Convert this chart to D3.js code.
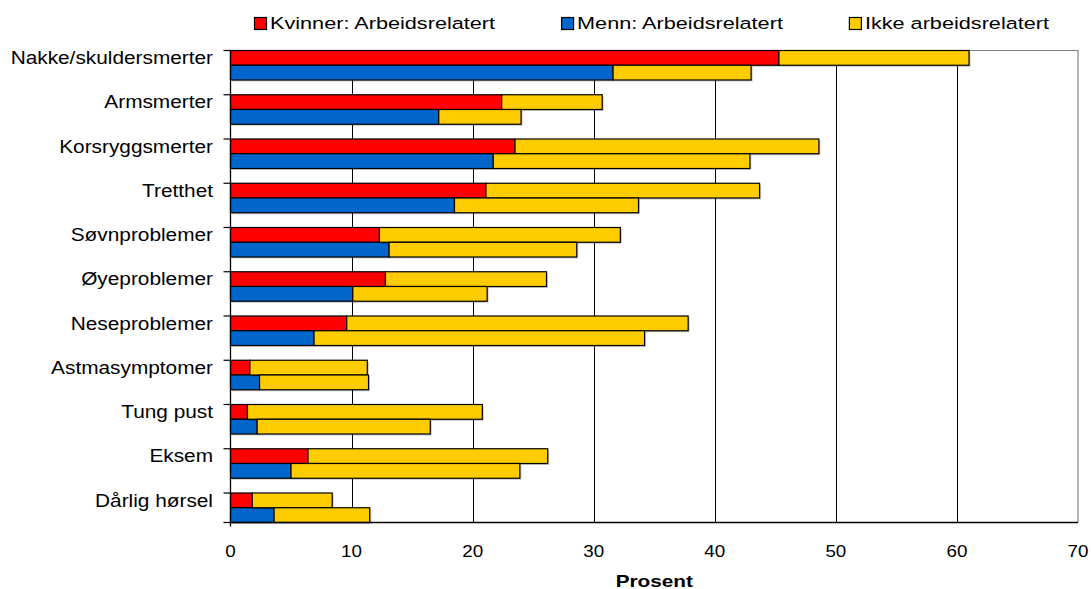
<!DOCTYPE html>
<html>
<head>
<meta charset="utf-8">
<script src="https://cdn.jsdelivr.net/npm/d3@7"></script>
<style>
  html, body { margin: 0; padding: 0; background: #fff; }
  svg { display: block; font-family: "Liberation Sans", Arial, sans-serif; }
</style>
</head>
<body>
<svg id="chart" width="1091" height="589"></svg>
<script>
// Symptomer, andel (prosent) – arbeidsrelatert vs. ikke arbeidsrelatert
const categories = [
  "Nakke/skuldersmerter", "Armsmerter", "Korsryggsmerter", "Tretthet",
  "Søvnproblemer", "Øyeproblemer", "Neseproblemer", "Astmasymptomer",
  "Tung pust", "Eksem", "Dårlig hørsel"
];
const kvinnerArb  = [45.3, 22.4, 23.5, 21.1, 12.3, 12.8,  9.6, 1.6,  1.4,  6.4, 1.8];
const kvinnerIkke = [15.7,  8.3, 25.1, 22.6, 19.9, 13.3, 28.2, 9.7, 19.4, 19.8, 6.6];
const mennArb     = [31.6, 17.2, 21.7, 18.5, 13.1, 10.1,  6.9, 2.4,  2.2,  5.0, 3.6];
const mennIkke    = [11.4,  6.8, 21.2, 15.2, 15.5, 11.1, 27.3, 9.0, 14.3, 18.9, 7.9];
const xTicks = [0, 10, 20, 30, 40, 50, 60, 70];
const legendLabels = ["Kvinner: Arbeidsrelatert", "Menn: Arbeidsrelatert", "Ikke arbeidsrelatert"];
const xTitle = "Prosent";

const colors = { kvinner: "#FF0000", menn: "#0066CC", ikke: "#FFCC00" };

const svg = d3.select("#chart");
const plotLeft = 230.5, plotRight = 1078, plotTop = 50.5, plotBottom = 522.5;

const x = d3.scaleLinear().domain([0, 70]).range([plotLeft, plotRight]);
const y = d3.scaleBand().domain(categories).range([plotTop, plotBottom])
  .paddingInner(1 / 3).paddingOuter(0).align(0);
const half = y.bandwidth() / 2;

// rows: one per category and gender, stacked work-related + other
const rows = [];
categories.forEach((c, i) => {
  rows.push({ cat: c, row: 0, arb: kvinnerArb[i], ikke: kvinnerIkke[i], color: colors.kvinner });
  rows.push({ cat: c, row: 1, arb: mennArb[i], ikke: mennIkke[i], color: colors.menn });
});
const stacked = d3.stack().keys(["arb", "ikke"])(rows);

// vertical gridlines
svg.append("g").selectAll("line")
  .data(xTicks.filter(t => t > 0 && t < 70))
  .join("line")
  .attr("x1", d => Math.round(x(d)) + 0.5).attr("x2", d => Math.round(x(d)) + 0.5)
  .attr("y1", plotTop).attr("y2", plotBottom)
  .attr("stroke", "#000").attr("stroke-width", 1);

// plot frame (top and right)
svg.append("path")
  .attr("d", `M${plotLeft},${plotTop}H${plotRight}V${plotBottom}`)
  .attr("fill", "none").attr("stroke", "#808080").attr("stroke-width", 1.2);

// bars
const barY = d => y(d.data.cat) + d.data.row * half;
stacked.forEach((layer, k) => {
  const g = svg.append("g");
  g.selectAll("rect.shadow")
    .data(layer).join("rect").attr("class", "shadow")
    .attr("x", d => x(d[0]) + 1.5).attr("y", d => barY(d) + 1.5)
    .attr("width", d => x(d[1]) - x(d[0])).attr("height", half)
    .attr("fill", "#000").attr("opacity", 0.22);
  g.selectAll("rect.bar")
    .data(layer).join("rect").attr("class", "bar")
    .attr("x", d => x(d[0])).attr("y", d => barY(d))
    .attr("width", d => x(d[1]) - x(d[0])).attr("height", half)
    .attr("fill", d => k === 0 ? d.data.color : colors.ikke)
    .attr("stroke", "#000").attr("stroke-width", 1.2);
});

// axes
svg.append("line").attr("x1", plotLeft).attr("x2", plotLeft).attr("y1", plotTop).attr("y2", plotBottom + 4)
  .attr("stroke", "#000").attr("stroke-width", 1.3);
svg.append("line").attr("x1", plotLeft).attr("x2", plotRight).attr("y1", plotBottom).attr("y2", plotBottom)
  .attr("stroke", "#000").attr("stroke-width", 1.3);
const catTicks = categories.map(c => y(c)).concat([plotBottom]);
svg.append("g").selectAll("line").data(catTicks).join("line")
  .attr("x1", plotLeft - 7).attr("x2", plotLeft).attr("y1", d => d).attr("y2", d => d)
  .attr("stroke", "#000").attr("stroke-width", 1.2);

// stretched text helper
function label(g, txt, px, py, size, sx, anchor, weight) {
  return g.append("text")
    .attr("transform", `translate(${px},${py}) scale(${sx},1)`)
    .attr("text-anchor", anchor || "start")
    .attr("font-size", size)
    .attr("font-weight", weight || "normal")
    .attr("fill", "#000")
    .text(txt);
}

// category labels
const catG = svg.append("g");
categories.forEach(c => label(catG, c, 213, y(c) + 13.5, 17.5, 1.19, "end"));

// x tick labels
const tickG = svg.append("g");
xTicks.forEach(t => label(tickG, t, x(t), 556.5, 16.5, 1.14, "middle"));

// x title
label(svg.append("g"), xTitle, (plotLeft + plotRight) / 2, 586.5, 17.3, 1.2, "middle", "bold");

// legend
const legG = svg.append("g");
const legColors = [colors.kvinner, colors.menn, colors.ikke];
let lx = 254.5;
legendLabels.forEach((t, i) => {
  legG.append("rect").attr("x", lx).attr("y", 17.5).attr("width", 12).attr("height", 12)
    .attr("fill", legColors[i]).attr("stroke", "#000").attr("stroke-width", 1.2);
  const tx = label(legG, t, lx + 15.5, 29, 16.3, 1.33, "start");
  const w = tx.node().getComputedTextLength() * 1.33;
  lx = lx + 15.5 + w + 66.5;
});
</script>
</body>
</html>
